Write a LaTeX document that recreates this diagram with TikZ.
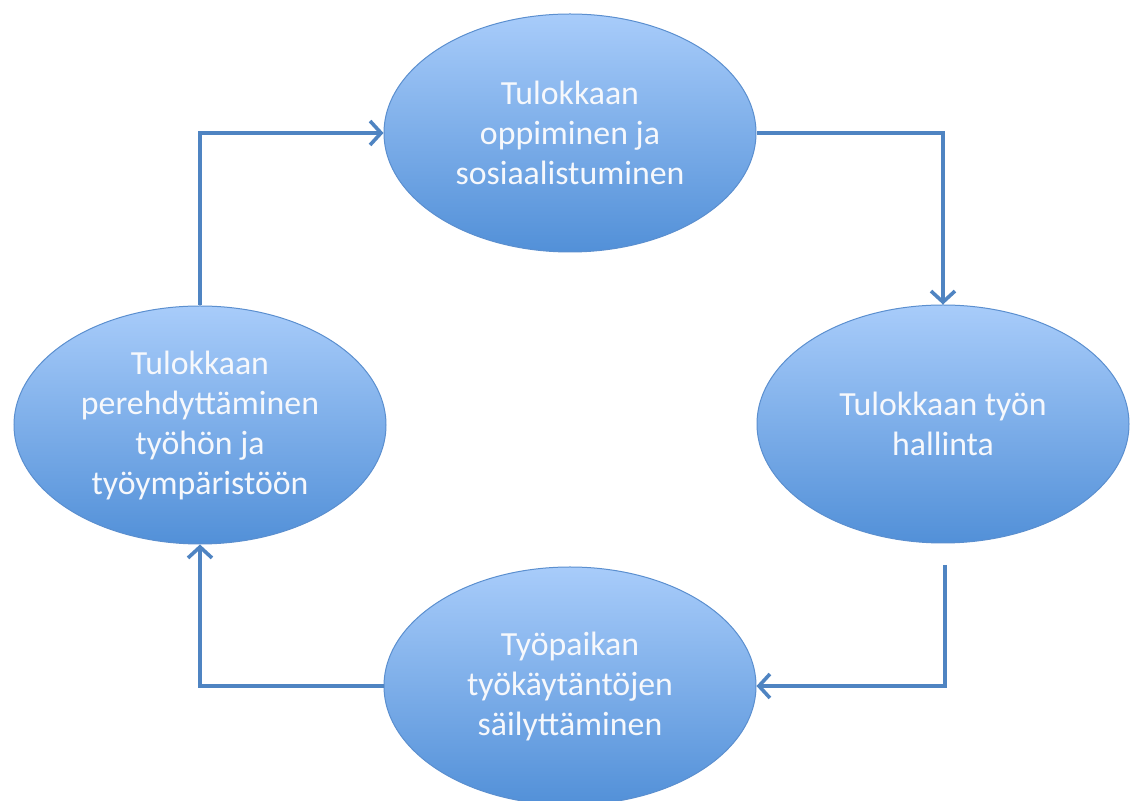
\documentclass[tikz,border=0pt]{standalone}
\usepackage{fontspec}
\setmainfont{Carlito}
\usetikzlibrary{arrows.meta,shapes.geometric}
\definecolor{linecol}{HTML}{4F84C2}
\definecolor{topcol}{HTML}{A8CCFA}
\definecolor{botcol}{HTML}{5290D8}
\definecolor{edgecol}{HTML}{5B8FCF}
\definecolor{txtcol}{HTML}{F6F8FC}
\tikzset{
  bubble/.style={ellipse, minimum width=186pt, minimum height=119pt, inner sep=0pt,
    top color=topcol, bottom color=botcol, draw=edgecol, line width=0.5pt,
    text=txtcol, align=center, font=\fontsize{16.9}{20}\selectfont},
  flow/.style={draw=linecol, line width=1.8pt, -{Straight Barb[length=5.5pt,width=12pt,line width=1.8pt]}}
}
\begin{document}
\begin{tikzpicture}[x=0.5pt,y=-0.5pt]
\useasboundingbox (0,0) rectangle (1132,801);
\node[bubble] (top) at (570,133) {Tulokkaan\\oppiminen ja\\sosiaalistuminen};
\node[bubble] (right) at (943,424) {Tulokkaan työn\\hallinta};
\node[bubble] (bottom) at (570,686) {Työpaikan\\työkäytäntöjen\\säilyttäminen};
\node[bubble] (left) at (200,425) {Tulokkaan\\perehdyttäminen\\työhön ja\\työympäristöön};
\coordinate (rstart) at (945,565);
\draw[flow] (left.north) |- (top.west);
\draw[flow] (top.east) -| (right.north);
\draw[flow] (rstart) |- (bottom.east);
\draw[flow] (bottom.west) -| (left.south);
\end{tikzpicture}
\end{document}
